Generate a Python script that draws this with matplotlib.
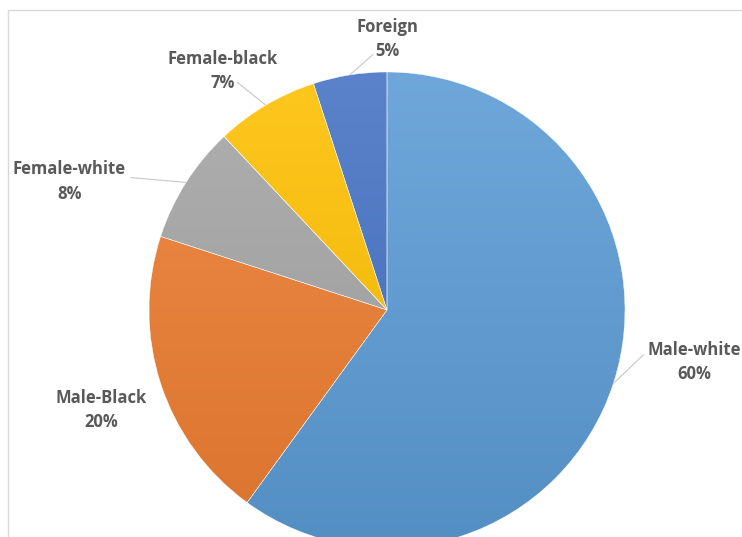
import numpy as np
import matplotlib
matplotlib.use("Agg")
import matplotlib.pyplot as plt
from matplotlib.patches import Rectangle
from matplotlib.colors import to_rgb

categories = ["Male-white", "Male-Black", "Female-white", "Female-black", "Foreign"]
values = [60, 20, 8, 7, 5]
colors = ["#5B9BD5", "#ED7D31", "#A5A5A5", "#FFC000", "#4472C4"]

# label placement (angle in degrees, radius factor) and leader end offsets - style/positions
label_pos = [(-9.6, 1.31), (-160.7, 1.273), (158, 1.44), (124.5, 1.22), (90, 1.14)]
leader_off = [(-0.214, 0.03), None, (0.26, 0.017), (0.063, -0.05), (-0.059, -0.067)]

W, H = 742, 537
R = 238.0
cx, cy = 387.0, 310.0  # pixel center (from top)

fig = plt.figure(figsize=(W / 100, H / 100), dpi=100)
fig.patch.set_facecolor("white")
ax = fig.add_axes([0, 0, 1, 1])

# chart frame
fig.patches.append(Rectangle((8 / W, -0.1), 1.2, (H - 10) / H + 0.1, transform=fig.transFigure,
                             fill=False, edgecolor="#d9d9d9", linewidth=1.0, zorder=0))

wedges, _ = ax.pie(values, colors=colors, startangle=90, counterclock=False, radius=1.0,
                   wedgeprops=dict(edgecolor="white", linewidth=0.3))
ax.set_aspect("auto")
ax.axis("off")

# subtle vertical gradient on each wedge (lighter top, darker bottom)
grad = np.linspace(0, 1, 256)[:, None]
for w, c in zip(wedges, colors):
    base = np.array(to_rgb(c))
    light = base + (1 - base) * 0.12
    dark = base * 0.92
    img = light[None, None, :] * (1 - grad[:, :, None]) + dark[None, None, :] * grad[:, :, None]
    img = np.repeat(img, 2, axis=1)
    im = ax.imshow(img, extent=(-1, 1, -1, 1), origin="upper", aspect="auto",
                   interpolation="bilinear", zorder=w.get_zorder() + 0.1)
    im.set_clip_path(w)
    w.set_zorder(w.get_zorder() + 0.2)
    w.set_facecolor("none")
ax.set_xlim(-cx / R, (W - cx) / R)
ax.set_ylim(-(H - cy) / R, cy / R)

total = sum(values)
start = 90.0
for i, (cat, v) in enumerate(zip(categories, values)):
    span = 360.0 * v / total
    mid = start - span / 2
    start -= span
    ang, rf = label_pos[i]
    tx, ty = rf * np.cos(np.radians(ang)), rf * np.sin(np.radians(ang))
    px, py = np.cos(np.radians(mid)), np.sin(np.radians(mid))
    ax.text(tx, ty, f"{cat}\n{v}%", ha="center", va="center", fontsize=12,
            fontweight="bold", color="#595959", family=["Open Sans", "DejaVu Sans"],
            linespacing=1.45, zorder=5)
    off = leader_off[i]
    if off is not None:
        ax.plot([px, tx + off[0]], [py, ty + off[1]], color="#c8c8c8", linewidth=0.8, zorder=0.5)

fig.savefig("out.png", dpi=100, facecolor="white")
